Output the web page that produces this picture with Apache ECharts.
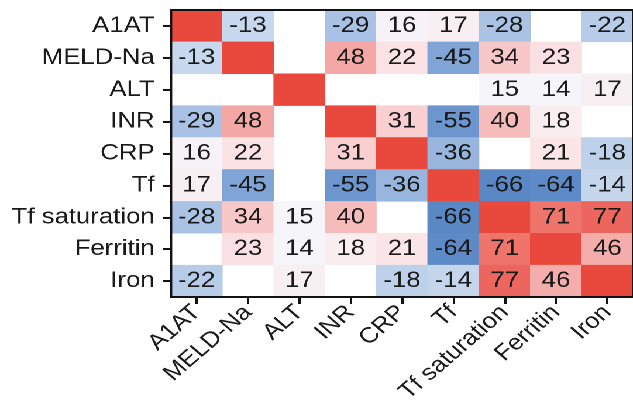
<!DOCTYPE html>
<html>
<head>
<meta charset="utf-8">
<script src="https://cdn.jsdelivr.net/npm/echarts@6/dist/echarts.min.js"></script>
<style>
html,body{margin:0;padding:0;background:#fff;overflow:hidden;}
#c{width:541px;height:416px;transform:scaleX(1.17);transform-origin:0 0;}
</style>
</head>
<body>
<div id="c"></div>
<script>
const categories = ['A1AT','MELD-Na','ALT','INR','CRP','Tf','Tf saturation','Ferritin','Iron'];
// correlation (x100); null = not shown (blank cell)
const rowA1AT     = [100, -13, null, -29, 16, 17, -28, null, -22];
const rowMELDNa   = [-13, 100, null, 48, 22, -45, 34, 23, null];
const rowALT      = [null, null, 100, null, null, null, 15, 14, 17];
const rowINR      = [-29, 48, null, 100, 31, -55, 40, 18, null];
const rowCRP      = [16, 22, null, 31, 100, -36, null, 21, -18];
const rowTf       = [17, -45, null, -55, -36, 100, -66, -64, -14];
const rowTfSat    = [-28, 34, 15, 40, null, -66, 100, 71, 77];
const rowFerritin = [null, 23, 14, 18, 21, -64, 71, 100, 46];
const rowIron     = [-22, null, 17, null, -18, -14, 77, 46, 100];
const rows = [rowA1AT,rowMELDNa,rowALT,rowINR,rowCRP,rowTf,rowTfSat,rowFerritin,rowIron];

const data = [];
rows.forEach((r, yi) => r.forEach((v, xi) => {
  if (v !== null) data.push({value: [xi, yi, v], label: {show: xi !== yi}});
}));

const FONT = "'Liberation Sans', Arial, Helvetica, sans-serif";
const chart = echarts.init(document.getElementById('c'), null, {devicePixelRatio: 2});
chart.setOption({
  animation: false,
  grid: {left: 146.2, top: 10, width: 399, height: 287, show: true, zlevel: 1, z: 10,
         borderColor: '#111', borderWidth: 2, backgroundColor: 'transparent'},
  xAxis: [{
    type: 'category', data: categories, position: 'bottom', zlevel: 1, z: 10,
    axisLine: {show: true, onZero: false, lineStyle: {color: '#111', width: 2}},
    axisTick: {show: true, alignWithLabel: true, length: 7, lineStyle: {color: '#111', width: 2}},
    axisLabel: {rotate: 45, margin: 12, fontSize: 22, color: '#1a1a1a', fontFamily: FONT, interval: 0}
  }, {
    type: 'category', data: categories, position: 'top', zlevel: 1, z: 10,
    axisLine: {show: true, onZero: false, lineStyle: {color: '#111', width: 2}},
    axisTick: {show: false}, axisLabel: {show: false}
  }],
  yAxis: {
    type: 'category', data: categories, inverse: true, position: 'left', zlevel: 1, z: 10,
    axisLine: {show: true, onZero: false, lineStyle: {color: '#111', width: 2}},
    axisTick: {show: true, alignWithLabel: true, length: 7, lineStyle: {color: '#111', width: 2}},
    axisLabel: {margin: 14, fontSize: 22, color: '#1a1a1a', fontFamily: FONT, interval: 0}
  },
  visualMap: {
    show: false, min: -100, max: 100, dimension: 2,
    inRange: {color: [
      '#2f5fa8','#3564ac','#3b69b0','#416fb4','#4776b9','#4e7cbd','#5483c2','#5c89c6','#6590cb','#6d96cf',
      '#769dd2','#7fa4d5','#8eaeda','#9bb7df','#a6c0e3','#b0c7e6','#bacfea','#c4d5ec','#cbd9ee','#e2e9f5',
      '#f2f3f9',
      '#f5f5fb','#f6f6fb','#f6f5fa','#fbe7e9','#fadcde','#f9d1d2','#f8c6c7','#f6bbbb','#f5afae','#f4a3a1',
      '#f39893','#f28c86','#f0817a','#ef766e','#ed6a61','#ec5f56','#eb584e','#ea5246','#e94d41','#e8493c'
    ]}
  },
  series: [{
    type: 'heatmap',
    z: 1,
    data: data,
    label: {show: true, fontSize: 22, color: '#1a1a1a', fontFamily: FONT}
  }]
});
</script>
</body>
</html>
